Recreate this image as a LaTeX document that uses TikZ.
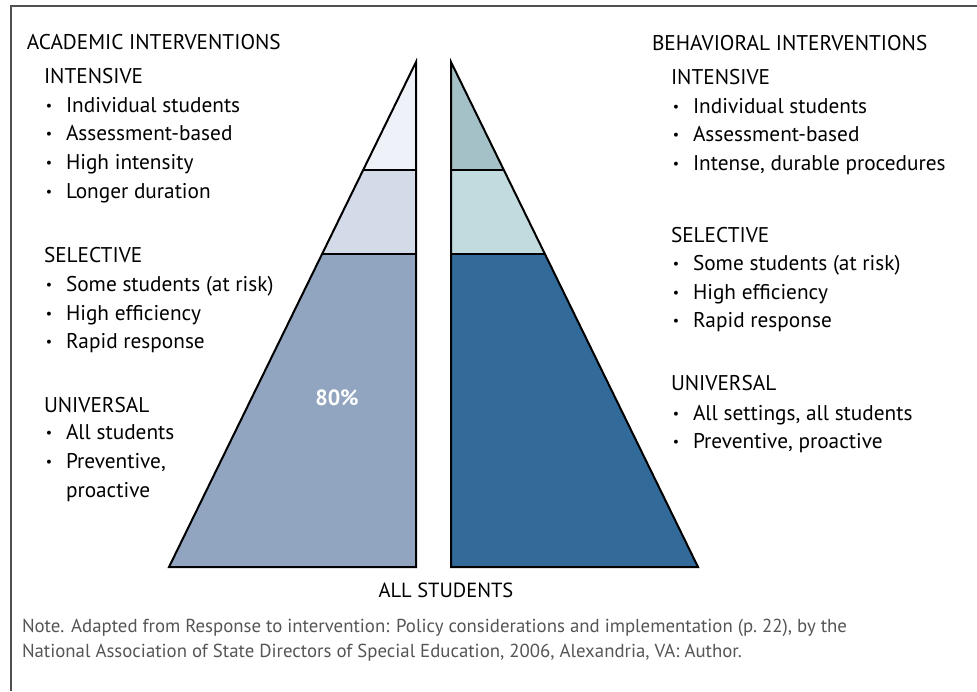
\documentclass[tikz,border=0pt]{standalone}
\usepackage{fontspec}
\setmainfont{PT Sans}
\usepackage{tikz}
\usetikzlibrary{positioning}

\definecolor{acadtop}{HTML}{EEF1F7}
\definecolor{acadmid}{HTML}{D3DBE8}
\definecolor{acadlow}{HTML}{91A5C0}
\definecolor{behvtop}{HTML}{A3C1C6}
\definecolor{behvmid}{HTML}{C2DBDE}
\definecolor{behvlow}{HTML}{326A99}
\definecolor{frame}{HTML}{505050}
\definecolor{notegray}{HTML}{555555}

% one bullet line: name, x of bullet, y of baseline, text
\newcommand{\bitem}[4]{%
  \node[bul] (#1b) at (#2,#3) {\textbullet};
  \node[item] (#1) at (#2+17,#3) {#4};}

\begin{document}
\begin{tikzpicture}[x=1pt,y=-1pt,
  every node/.style={inner sep=0pt,outer sep=0pt,anchor=base west},
  head/.style={font=\fontsize{21.3}{24}\selectfont},
  item/.style={font=\fontsize{21.3}{24}\selectfont},
  bul/.style={anchor=base,font=\fontsize{14}{16}\selectfont,yshift=1.5pt},
  note/.style={font=\fontsize{18.8}{21}\selectfont,text=notegray},
  tier/.style={draw=black,line width=1.1pt},
  outline/.style={draw=black,line width=2pt,line join=miter},
  declare function={ lx(\y) = 416-0.48911*(\y-62); rx(\y) = 451+0.48911*(\y-62); }]

  \useasboundingbox (0,0) rectangle (977,691);

  % frame
  \draw[frame,line width=1.5pt] (11,691) -- (11,6) -- (977,6);

  % academic pyramid
  \fill[acadlow] (416,254) -- ({lx(254)},254) -- (169,567) -- (416,567) -- cycle;
  \fill[acadmid] (416,170) -- ({lx(170)},170) -- ({lx(254)},254) -- (416,254) -- cycle;
  \fill[acadtop] (416,62) -- ({lx(170)},170) -- (416,170) -- cycle;
  \draw[tier] ({lx(170)},170) -- (416,170);
  \draw[tier] ({lx(254)},254) -- (416,254);
  \draw[outline] (416,62) -- (169,567) -- (416,567) -- cycle;
  \node[anchor=center,text=white,font=\fontsize{22}{24}\selectfont\bfseries] (pct) at (337,398) {80\%};

  % behavioral pyramid
  \fill[behvlow] (451,254) -- ({rx(254)},254) -- (698,567) -- (451,567) -- cycle;
  \fill[behvmid] (451,170) -- ({rx(170)},170) -- ({rx(254)},254) -- (451,254) -- cycle;
  \fill[behvtop] (451,62) -- ({rx(170)},170) -- (451,170) -- cycle;
  \draw[tier] ({rx(170)},170) -- (451,170);
  \draw[tier] ({rx(254)},254) -- (451,254);
  \draw[outline] (451,62) -- (698,567) -- (451,567) -- cycle;

  \node[head,anchor=base,font=\fontsize{20.5}{24}\selectfont] (all) at (446,597) {ALL STUDENTS};

  % academic list
  \node[head] (acad) at (27,49) {ACADEMIC INTERVENTIONS};
  \node[head] (aint) at (44,83) {INTENSIVE};
  \bitem{ai1}{49}{112}{Individual students}
  \bitem{ai2}{49}{140}{Assessment-based}
  \bitem{ai3}{49}{169}{High intensity}
  \bitem{ai4}{49}{198}{Longer duration}
  \node[head] (asel) at (44,262) {SELECTIVE};
  \bitem{as1}{49}{291}{Some students (at risk)}
  \bitem{as2}{49}{320}{High efficiency}
  \bitem{as3}{49}{348}{Rapid response}
  \node[head] (auni) at (44,412) {UNIVERSAL};
  \bitem{au1}{49}{439}{All students}
  \bitem{au2}{49}{468}{Preventive,}
  \node[item] (au3) at (66,497) {proactive};

  % behavioral list
  \node[head] (behv) at (652,50) {BEHAVIORAL INTERVENTIONS};
  \node[head] (bint) at (671,84) {INTENSIVE};
  \bitem{bi1}{676}{113}{Individual students}
  \bitem{bi2}{676}{141}{Assessment-based}
  \bitem{bi3}{676}{170}{Intense, durable procedures}
  \node[head] (bsel) at (671,242) {SELECTIVE};
  \bitem{bs1}{676}{270}{Some students (at risk)}
  \bitem{bs2}{676}{299}{High efficiency}
  \bitem{bs3}{676}{327}{Rapid response}
  \node[head] (buni) at (671,390) {UNIVERSAL};
  \bitem{bu1}{676}{420}{All settings, all students}
  \bitem{bu2}{676}{448}{Preventive, proactive}

  % source note
  \node[note] (note1) at (22,632) {Note. Adapted from Response to intervention: Policy considerations and implementation (p.~22), by the};
  \node[note] (note2) at (22,657) {National Association of State Directors of Special Education, 2006, Alexandria, VA: Author.};
\end{tikzpicture}
\end{document}
